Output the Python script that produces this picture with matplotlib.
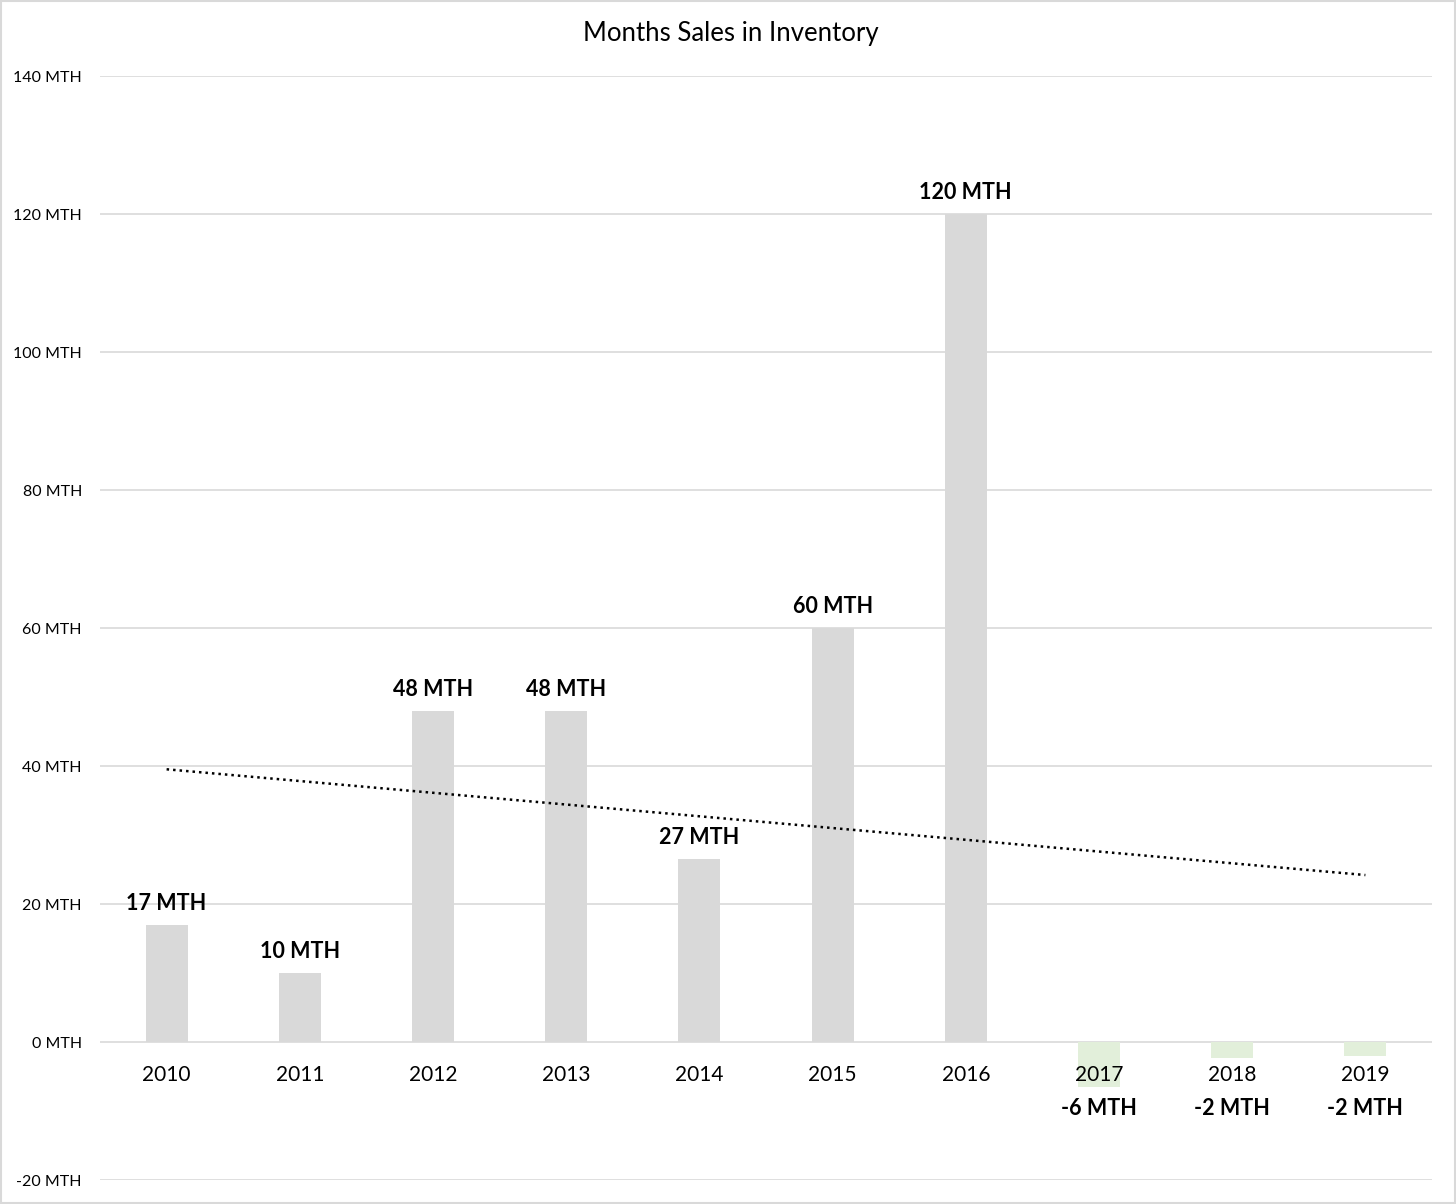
import numpy as np
import matplotlib.pyplot as plt
from matplotlib.patches import Rectangle

plt.rcParams['font.family'] = ['Lato', 'DejaVu Sans']

# --- Datos ---
years = ['2010', '2011', '2012', '2013', '2014', '2015', '2016', '2017', '2018', '2019']
months = [17.0, 10.0, 48.0, 48.0, 26.5, 60.0, 120.0, -6.5, -2.3, -2.1]
labels = ['17 MTH', '10 MTH', '48 MTH', '48 MTH', '27 MTH', '60 MTH', '120 MTH',
          '-6 MTH', '-2 MTH', '-2 MTH']
yticks = [-20, 0, 20, 40, 60, 80, 100, 120, 140]

x = np.arange(len(years))
vals = np.array(months)
colors = ['#d9d9d9' if v >= 0 else '#e2efda' for v in vals]

fig = plt.figure(figsize=(14.56, 12.04), dpi=100)
ax = fig.add_axes([100 / 1456, 1 - 1180 / 1204, 1332 / 1456, (1180 - 76) / 1204])

ax.bar(x, vals, width=0.315, color=colors, zorder=2)

# linea de tendencia lineal
m, b = np.polyfit(x, vals, 1)
ax.plot(x, m * x + b, color='black', linestyle=(0, (1, 1.6)), linewidth=1.8, zorder=3)

# etiquetas de datos
for xi, v, lab in zip(x, vals, labels):
    if v >= 0:
        ax.annotate(lab, (xi, v), xytext=(0, 8), textcoords='offset points',
                    ha='center', va='bottom', fontsize=15.5, fontweight='bold')
    else:
        ax.text(xi, -9.6, lab, ha='center', va='center', fontsize=15.5, fontweight='bold', zorder=4)

# años sobre el eje en y=0
for xi, yr in zip(x, years):
    ax.text(xi, -4.8, yr, ha='center', va='center', fontsize=15, zorder=4)

ax.set_xlim(-0.5, len(years) - 0.5)
ax.set_ylim(-20, 140)
ax.set_yticks(yticks)
ax.set_yticklabels([f'{t} MTH' for t in yticks], fontsize=11.5)
ax.set_xticks([])
ax.tick_params(axis='y', length=0, pad=13)
ax.grid(axis='y', color='#d9d9d9', linewidth=1.2, zorder=0)
for s in ax.spines.values():
    s.set_visible(False)

fig.text(731 / 1456, 1 - 34 / 1204, 'Months Sales in Inventory', ha='center', va='center', fontsize=18.5)

# borde del grafico
fig.patches.append(Rectangle((0.001, 0.001), 0.998, 0.998, transform=fig.transFigure,
                             fill=False, edgecolor='#d9d9d9', linewidth=1.5))

fig.savefig('out.png', dpi=100)
